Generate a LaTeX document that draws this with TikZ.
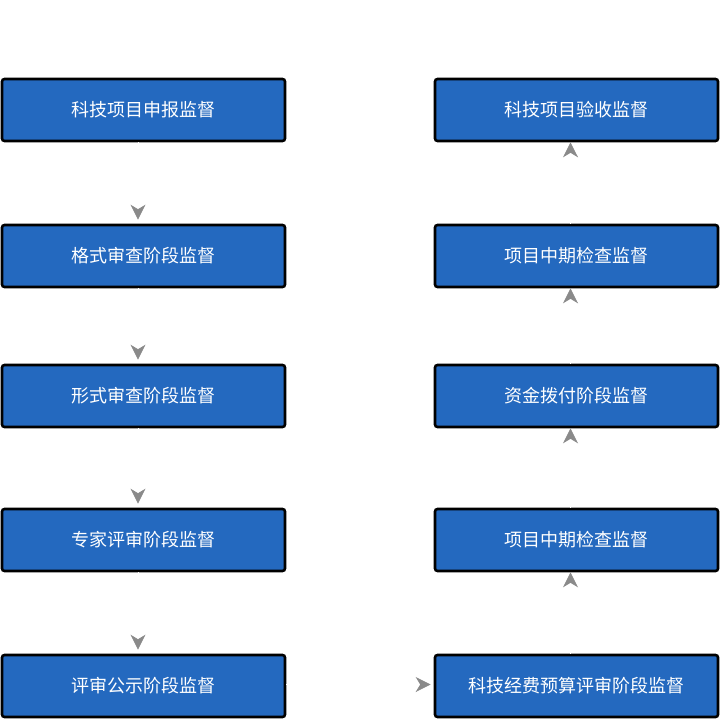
\documentclass[tikz,border=0pt]{standalone}
\usepackage{fontspec}
\newfontfamily\cjk{Noto Sans CJK SC}
\usetikzlibrary{arrows.meta}
\definecolor{boxblue}{HTML}{2469BF}
\definecolor{tipgray}{HTML}{8A8A8A}
\tikzset{
  x=1pt,y=-1pt,
  stagebox/.style={draw=black, line width=2.6pt, fill=boxblue, rounded corners=2.5pt,
    minimum width=283pt, minimum height=62pt, inner sep=0pt,
    text=white, font=\cjk\fontsize{18}{20}\selectfont},
  flow/.style={draw=white, line width=0.8pt,
    -{Stealth[length=15pt,width=15pt,inset=4.5pt,fill=tipgray,color=tipgray]}},
}
\begin{document}
\begin{tikzpicture}
\useasboundingbox (0,0) rectangle (720,719);
\node[stagebox] (l1) at (143.5,110) {科技项目申报监督};
\node[stagebox] (l2) at (143.5,256) {格式审查阶段监督};
\node[stagebox] (l3) at (143.5,396) {形式审查阶段监督};
\node[stagebox] (l4) at (143.5,540) {专家评审阶段监督};
\node[stagebox] (l5) at (143.5,686) {评审公示阶段监督};
\node[stagebox] (r1) at (576.5,110) {科技项目验收监督};
\node[stagebox] (r2) at (576.5,256) {项目中期检查监督};
\node[stagebox] (r3) at (576.5,396) {资金拨付阶段监督};
\node[stagebox] (r4) at (576.5,540) {项目中期检查监督};
\node[stagebox] (r5) at (576.5,686) {科技经费预算评审阶段监督};
\foreach \a/\b in {l1/l2,l2/l3,l3/l4,l4/l5}{
  \draw[flow, shorten >=4pt] ([xshift=-5.5pt]\a.south) -- ([xshift=-5.5pt]\b.north);
}
\foreach \a/\b in {r5/r4,r4/r3,r3/r2,r2/r1}{
  \draw[flow, shorten >=0pt] ([xshift=-6pt]\a.north) -- ([xshift=-6pt]\b.south);
}
\draw[flow, shorten >=3pt] ([yshift=1.5pt]l5.east) -- ([yshift=1.5pt]r5.west);
\end{tikzpicture}
\end{document}
